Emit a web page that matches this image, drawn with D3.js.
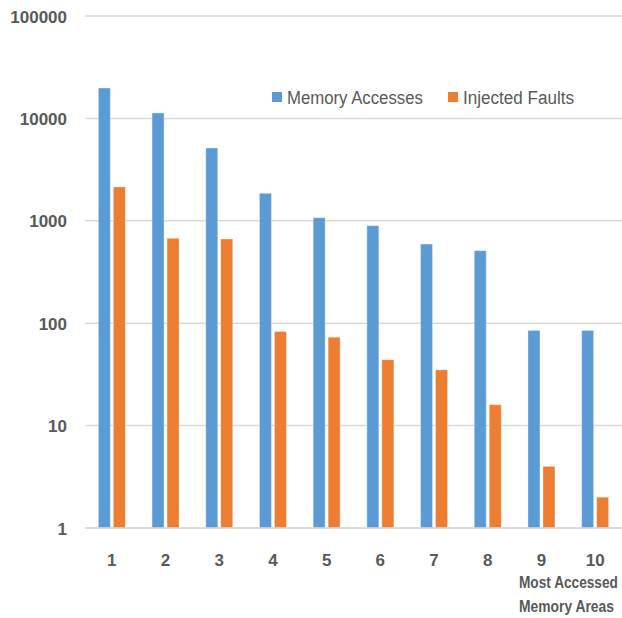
<!DOCTYPE html>
<html>
<head>
<meta charset="utf-8">
<script src="https://cdn.jsdelivr.net/npm/d3@7/dist/d3.min.js"></script>
<style>
  html, body { margin: 0; padding: 0; background: #ffffff; }
  svg { display: block; }
  text { font-family: "Liberation Sans", Arial, sans-serif; fill: #595959; }
</style>
</head>
<body>
<svg id="chart" width="622" height="618"></svg>
<script>
// Ten most accessed memory areas: access counts and injected faults (log scale)
const categories = ["1", "2", "3", "4", "5", "6", "7", "8", "9", "10"];
const seriesNames = ["Memory Accesses", "Injected Faults"];
const memoryAccesses = [19800, 11300, 5140, 1855, 1072, 896, 593, 511, 85, 85];
const injectedFaults = [2140, 675, 664, 83, 73, 44, 35, 16, 4, 2];
const yTicks = [1, 10, 100, 1000, 10000, 100000];
const axisTitle = ["Most Accessed", "Memory Areas"];

const colors = { "Memory Accesses": "#5b9bd5", "Injected Faults": "#ed7d31" };

const svg = d3.select("#chart");
const plotLeft = 85, plotRight = 622, plotTop = 16, plotBottom = 528;

const x0 = d3.scaleBand().domain(categories).range([plotLeft, plotRight]).padding(0);
const bw = x0.bandwidth();
const x1 = d3.scaleBand().domain(seriesNames)
  .range([bw / 2 - 13.5, bw / 2 + 13.5]).paddingInner(0.2).paddingOuter(0);
const y = d3.scaleLog().domain([1, 100000]).range([plotBottom, plotTop]);

// Horizontal gridlines, one per decade
svg.append("g").selectAll("line").data(yTicks).join("line")
  .attr("x1", plotLeft).attr("x2", plotRight)
  .attr("y1", d => y(d)).attr("y2", d => y(d))
  .attr("stroke", "#d9d9d9").attr("stroke-width", 1.5);

// Y axis labels
const yAxis = d3.axisLeft(y).tickValues(yTicks).tickFormat(d3.format("d")).tickSize(0).tickPadding(0);
const gy = svg.append("g").attr("transform", "translate(67,0)").call(yAxis);
gy.select(".domain").remove();
gy.selectAll("text")
  .attr("x", 0).attr("dy", "0.36em")
  .style("font-family", "'Liberation Sans', Arial, sans-serif")
  .style("font-size", "17px").style("font-weight", "bold").style("fill", "#595959");

// Bars
const rows = categories.map((c, i) => ({
  cat: c,
  values: [
    { key: "Memory Accesses", value: memoryAccesses[i] },
    { key: "Injected Faults", value: injectedFaults[i] }
  ]
}));

svg.append("g").selectAll("g").data(rows).join("g")
  .attr("transform", d => `translate(${x0(d.cat)},0)`)
  .selectAll("rect").data(d => d.values).join("rect")
  .attr("x", d => x1(d.key))
  .attr("width", x1.bandwidth())
  .attr("y", d => y(d.value))
  .attr("height", d => plotBottom - y(d.value))
  .attr("fill", d => colors[d.key])
  .attr("stroke", "rgba(255,255,255,0.35)").attr("stroke-width", 1);

// Baseline on top of bars
svg.append("line")
  .attr("x1", plotLeft).attr("x2", plotRight).attr("y1", plotBottom).attr("y2", plotBottom)
  .attr("stroke", "#d9d9d9").attr("stroke-width", 1.5);

// X axis labels
const xAxis = d3.axisBottom(x0).tickSize(0).tickPadding(0);
const gx = svg.append("g").attr("transform", `translate(0,${plotBottom})`).call(xAxis);
gx.select(".domain").remove();
gx.selectAll("text")
  .attr("y", 38).attr("dy", 0)
  .style("font-family", "'Liberation Sans', Arial, sans-serif")
  .style("font-size", "17px").style("font-weight", "bold").style("fill", "#595959");

// Draw a text condensed horizontally to a given width
function condensedText(parent, str, x, yPos, width, size, weight) {
  const g = parent.append("g").attr("transform", `translate(${x},${yPos})`);
  const t = g.append("text").attr("x", 0).attr("y", 0)
    .style("font-size", size + "px").style("font-weight", weight)
    .text(str);
  const natural = t.node().getComputedTextLength();
  t.attr("transform", `scale(${width / natural},1)`);
  return g;
}

// Axis title, two lines at the bottom right
condensedText(svg, axisTitle[0], 519, 588, 99, 17, "bold");
condensedText(svg, axisTitle[1], 519, 612, 95, 17, "bold");

// Legend
const legendPos = [{ sx: 272, tx: 287, tw: 136 }, { sx: 448, tx: 463, tw: 111 }];
seriesNames.forEach((name, i) => {
  svg.append("rect")
    .attr("x", legendPos[i].sx).attr("y", 92)
    .attr("width", 10).attr("height", 10)
    .attr("fill", colors[name]);
  condensedText(svg, name, legendPos[i].tx, 104, legendPos[i].tw, 18, "normal");
});
</script>
</body>
</html>
